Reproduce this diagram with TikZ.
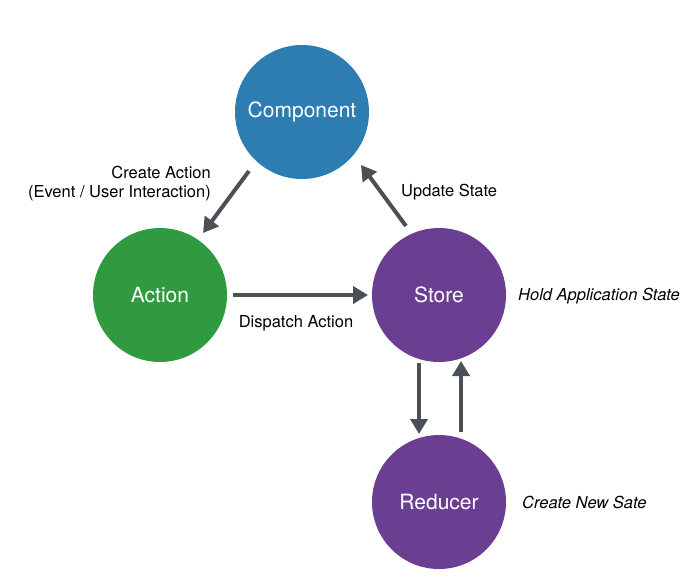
\documentclass[tikz,border=0pt]{standalone}
\usepackage{fontspec}
\setmainfont{TeX Gyre Heros}
\usetikzlibrary{arrows.meta}
\definecolor{cblue}{HTML}{2E7DB2}
\definecolor{cgreen}{HTML}{2F9A3F}
\definecolor{cpurple}{HTML}{6A3F92}
\definecolor{carrow}{HTML}{4B5057}
\begin{document}
\begin{tikzpicture}[x=1pt,y=-1pt,
  bubble/.style={circle,minimum size=134pt,inner sep=0pt,text=white,font=\fontsize{21}{24}\selectfont},
  lbl/.style={font=\fontsize{16.5}{19}\selectfont,text=black,inner sep=0pt},
  ilbl/.style={lbl,font=\fontsize{16.5}{19}\selectfont\itshape},
  flow/.style={draw=carrow,line width=4pt,-{Triangle[length=15pt,width=17pt]}}]
\useasboundingbox[fill=white] (0,0) rectangle (700,587);
\node[bubble,fill=cblue] (comp) at (302,112) {Component};
\node[bubble,fill=cgreen] (act) at (160,295) {Action};
\node[bubble,fill=cpurple] (store) at (439,295) {Store};
\node[bubble,fill=cpurple] (red) at (439,502) {Reducer};
\coordinate (a1) at (249,171);
\coordinate (a2) at (203,233);
\draw[flow] (a1) -- (a2);
\coordinate (d1) at (233,295);
\coordinate (d2) at (368,295);
\draw[flow] (d1) -- (d2);
\coordinate (u1) at (406,226);
\coordinate (u2) at (361,165);
\draw[flow] (u1) -- (u2);
\coordinate (s1) at (419,363);
\coordinate (s2) at (419,434);
\draw[flow] (s1) -- (s2);
\coordinate (r1) at (461,432);
\coordinate (r2) at (461,361);
\draw[flow] (r1) -- (r2);
\node[lbl,align=right,anchor=east] (t1) at (211,184) {Create Action\\(Event / User Interaction)};
\node[lbl] (t2) at (296,323) {Dispatch Action};
\node[lbl,anchor=west] (t3) at (401,192) {Update State};
\node[ilbl,anchor=west] (t4) at (518,296) {Hold Application State};
\node[ilbl,anchor=west] (t5) at (522,502) {Create New Sate};
\end{tikzpicture}
\end{document}
